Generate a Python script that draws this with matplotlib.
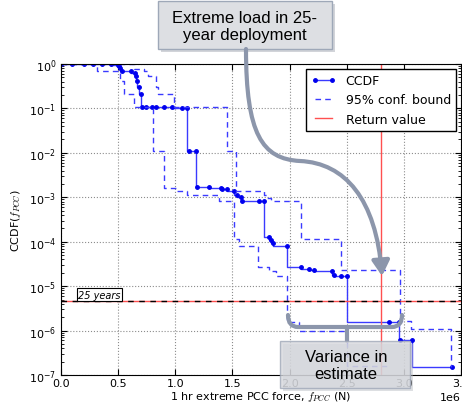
import numpy as np
import matplotlib
matplotlib.use('Agg')
import matplotlib.pyplot as plt
import matplotlib.transforms as mtransforms
from matplotlib.patches import Rectangle, FancyArrowPatch, PathPatch
from matplotlib.path import Path

# 1 hr extreme PCC force, in 1e6 N
ccdf_x = [0.0, 0.10, 0.20, 0.28, 0.36, 0.44, 0.50,
          0.507, 0.52, 0.534, 0.612, 0.645, 0.656, 0.665, 0.682, 0.70, 0.709,
          0.744, 0.80, 0.83, 0.90, 0.97, 1.06, 1.10,
          1.12, 1.18, 1.19,
          1.295, 1.40, 1.41, 1.45, 1.51, 1.54, 1.575, 1.585,
          1.73, 1.776, 1.82, 1.84, 1.855, 1.98,
          2.10, 2.17, 2.21, 2.37, 2.39, 2.45, 2.50,
          2.87, 2.96, 2.97, 3.07, 3.42]
ccdf_y = [1.0, 1.0, 0.995, 0.99, 0.985, 0.98, 0.97,
          0.90, 0.80, 0.70, 0.70, 0.62, 0.55, 0.42, 0.30, 0.21, 0.108,
          0.108, 0.107, 0.106, 0.106, 0.105, 0.104, 0.104,
          0.011, 0.0108, 1.7e-3,
          1.7e-3, 1.6e-3, 1.55e-3, 1.5e-3, 1.35e-3, 1.1e-3, 1.0e-3, 8.3e-4,
          8.3e-4, 8.2e-4, 1.25e-4, 1.1e-4, 9.5e-5, 8.2e-5,
          2.7e-5, 2.45e-5, 2.35e-5, 2.2e-5, 1.75e-5, 1.7e-5, 1.7e-5,
          1.6e-6, 1.6e-6, 6.0e-7, 6.0e-7, 1.55e-7]

# 95% confidence bounds
upper_x = [0.0, 0.64, 0.73, 0.76, 0.83, 0.85, 0.99, 1.45, 1.53, 1.78, 1.80,
           1.84, 2.10, 2.45, 2.97, 3.06, 3.41]
upper_y = [1.0, 0.76, 0.70, 0.55, 0.30, 0.21, 0.108, 0.011, 1.4e-3, 1.1e-3,
           9.5e-4, 8.3e-4, 1.15e-4, 2.3e-5, 1.65e-6, 1.07e-6, 1.55e-7]
lower_x = [0.0, 0.315, 0.52, 0.55, 0.64, 0.805, 0.90, 1.01, 1.10, 1.38, 1.51,
           1.56, 1.72, 1.82, 1.88, 1.98, 2.08, 2.50, 2.87]
lower_y = [1.0, 0.70, 0.42, 0.21, 0.108, 0.011, 1.6e-3, 1.4e-3, 1.1e-3, 8.3e-4,
           1.15e-4, 8.2e-5, 2.7e-5, 2.2e-5, 1.7e-5, 1.6e-6, 1.0e-6, 1.6e-7, 1.6e-7]

return_value = 2.80  # 1e6 N
p_25yr = 1.0 / (25 * 365.25 * 24)  # one exceedance in 25 years of hourly maxima

W, H = 462, 406
fig = plt.figure(figsize=(W / 100, H / 100), dpi=100)
ax = fig.add_axes([61 / W, 1 - 376 / H, 400 / W, 311 / H])

ax.plot(np.array(ccdf_x) * 1e6, ccdf_y, drawstyle='steps-pre', color='#3a3aff',
        lw=1, marker='.', ms=5, mfc='#0000ee', mec='#0000ee', label='CCDF')
ax.plot(np.array(upper_x) * 1e6, upper_y, drawstyle='steps-post', color='#3a3aff',
        lw=1, dashes=(4, 3), label='95% conf. bound')
ax.plot(np.array(lower_x) * 1e6, lower_y, drawstyle='steps-post', color='#3a3aff',
        lw=1, dashes=(4, 3))
ax.axvline(return_value * 1e6, color='#ff5050', lw=1, label='Return value')
ax.axhline(p_25yr, color='#ff5050', lw=1)
ax.axhline(p_25yr, color='k', lw=1, dashes=(4, 4))
ax.text(0.15e6, p_25yr * 1.08, '25 years', fontsize=7, style='italic', va='bottom',
        bbox=dict(boxstyle='square,pad=0.15', fc='white', ec='k', lw=0.8))

ax.set_yscale('log')
ax.set_xlim(0, 3.5e6)
ax.set_ylim(1e-7, 1)
ax.grid(True, which='major', linestyle=':', color='0.55', lw=0.8)
ax.tick_params(which='both', direction='in', top=True, right=True, labelsize=8)
ax.tick_params(which='major', length=4)
ax.tick_params(which='minor', length=2)
ax.tick_params(axis='x', pad=2)
ax.xaxis.get_offset_text().set_fontsize(8)
ax.set_xlabel(r'1 hr extreme PCC force, $f_{PCC}$ (N)', fontsize=8,
              math_fontfamily='cm', labelpad=1)
ax.set_ylabel(r'CCDF($f_{PCC}$)', fontsize=8, math_fontfamily='cm')
ax.legend(loc='upper right', fontsize=9, numpoints=2, fancybox=False,
          edgecolor='k', framealpha=1, borderaxespad=0.4, handlelength=2)

# annotation overlays, placed in reference pixel coordinates (top-left origin)
px = mtransforms.Affine2D().scale(1 / W, -1 / H).translate(0, 1) + fig.transFigure
arrow_c = '#8c96ab'

fig.add_artist(Rectangle((161, 5), 174, 48, transform=px, fc='#b4b8c0', ec='none', alpha=0.6, zorder=4))
fig.add_artist(Rectangle((158, 2), 174, 48, transform=px, fc='#dddfe3', ec='#9ea8b8', lw=1, zorder=5))
fig.text(245, 27, 'Extreme load in 25-\nyear deployment', transform=px, ha='center', va='center',
         fontsize=12, family='Liberation Sans', linespacing=1.15, zorder=6)

arrow_path = Path([(246, 50), (246, 135), (262, 160), (300, 162),
                   (345, 164), (376, 200), (382, 277)],
                  [Path.MOVETO, Path.CURVE4, Path.CURVE4, Path.CURVE4,
                   Path.CURVE4, Path.CURVE4, Path.CURVE4])
fig.add_artist(FancyArrowPatch(path=arrow_path, transform=px,
                               arrowstyle='-|>,head_length=0.6,head_width=0.35',
                               mutation_scale=15, lw=3, color=arrow_c, zorder=5))

bracket = Path([(288, 316), (288, 328), (298, 328), (392, 328), (402, 328), (402, 316),
                (347, 328), (347, 342)],
               [Path.MOVETO, Path.CURVE3, Path.CURVE3, Path.LINETO, Path.CURVE3, Path.CURVE3,
                Path.MOVETO, Path.LINETO])
fig.add_artist(PathPatch(bracket, transform=px, fill=False, ec=arrow_c, lw=3,
                         capstyle='round', zorder=5))

fig.add_artist(Rectangle((283, 345), 130, 47, transform=px, fc='#b4b8c0', ec='none', alpha=0.45, zorder=4))
fig.add_artist(Rectangle((280, 342), 130, 47, transform=px, fc='#d6d8dd', ec='#a0a8b8',
                         lw=1, alpha=0.8, zorder=5))
fig.text(346, 366, 'Variance in\nestimate', transform=px, ha='center', va='center',
         fontsize=12, family='Liberation Sans', linespacing=1.15, zorder=6)

plt.savefig('out.png', dpi=100)
